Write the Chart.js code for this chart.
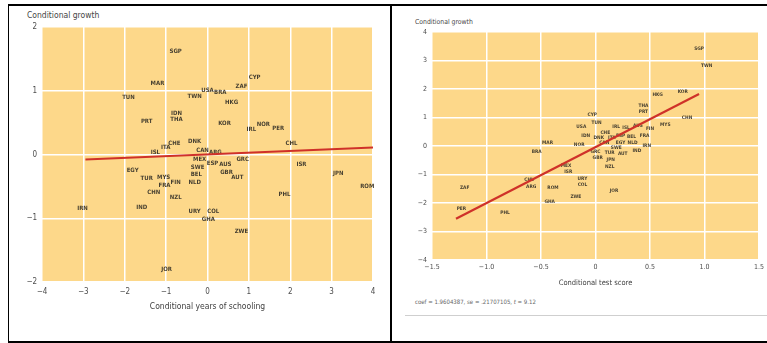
<!DOCTYPE html>
<html>
<head>
<meta charset="utf-8">
<script src="https://cdn.jsdelivr.net/npm/chart.js@4"></script>
<style>
  html, body { margin: 0; padding: 0; background: #fff; }
  body { width: 767px; height: 343px; position: relative; overflow: hidden;
         font-family: "Liberation Sans Narrow", "DejaVu Sans Condensed", "Arial Narrow", sans-serif; }
  .rule { position: absolute; background: #000; }
  canvas { position: absolute; top: 0; }
  .txt { position: absolute; white-space: nowrap; line-height: 1; color: #454545; }
</style>
</head>
<body>
<div class="rule" style="left:8px;top:4px;width:759px;height:2px"></div>
<div class="rule" style="left:8px;top:4px;width:1px;height:339px"></div>
<div class="rule" style="left:390px;top:4px;width:2px;height:339px"></div>
<div class="rule" style="left:8px;top:341px;width:759px;height:2px"></div>
<div style="position:absolute;left:405px;top:315px;width:362px;height:1px;background:#cfcfcf"></div>

<div class="txt" style="left:27px;top:11px;font-size:8.5px">Conditional growth</div>
<div class="txt" style="left:415px;top:19px;font-size:6.8px">Conditional growth</div>
<div class="txt" style="left:415px;top:299px;font-size:6px;color:#666">coef = 1.9604387, se = .21707105, <i>t</i> = 9.12</div>

<canvas id="schooling" width="390" height="343" style="left:0;width:390px;height:343px"></canvas>
<canvas id="testscore" width="377" height="343" style="left:390px;width:377px;height:343px"></canvas>

<script>
// Country codes, shared by both panels (same order in every array below)
const countries = ['SGP','MAR','TUN','TWN','USA','BRA','ZAF','CYP','HKG','IDN',
  'THA','PRT','KOR','IRL','NOR','PER','CHL','ISL','ITA','CHE',
  'DNK','CAN','ARG','MEX','ESP','AUS','GRC','SWE','GBR','BEL',
  'AUT','NLD','EGY','TUR','MYS','FRA','FIN','CHN','NZL','IND',
  'URY','COL','GHA','ISR','JPN','ROM','PHL','ZWE','IRN','JOR'];

// Left panel: conditional years of schooling vs conditional growth
const schoolYears = [-0.77,-1.21,-1.91,-0.31,0.00,0.31,0.82,1.14,0.58,-0.75,
  -0.75,-1.47,0.41,1.06,1.35,1.71,2.03,-1.26,-1.01,-0.80,
  -0.31,-0.12,0.19,-0.19,0.12,0.43,0.85,-0.24,0.46,-0.27,
  0.72,-0.31,-1.81,-1.47,-1.06,-1.04,-0.77,-1.30,-0.77,-1.59,
  -0.31,0.14,0.02,2.27,3.16,3.86,1.86,0.82,-3.02,-0.99];
const schoolGrowth = [1.61,1.12,0.90,0.91,1.01,0.98,1.07,1.21,0.82,0.65,
  0.55,0.52,0.49,0.39,0.47,0.41,0.17,0.03,0.11,0.17,
  0.20,0.06,0.03,-0.08,-0.14,-0.16,-0.08,-0.20,-0.28,-0.31,
  -0.36,-0.44,-0.25,-0.38,-0.36,-0.49,-0.44,-0.60,-0.68,-0.83,
  -0.90,-0.90,-1.02,-0.16,-0.30,-0.50,-0.62,-1.21,-0.85,-1.80];
const schoolFitX = [-2.95, 4.0];
const schoolFitY = [-0.08, 0.11];
const schoolXTicks = ['\u22124','\u22123','\u22122','\u22121','0','1','2','3','4'];
const schoolYTicks = ['\u22122','\u22121','0','1','2'];

// Right panel: conditional test score vs conditional growth
const testScore = [0.95,-0.44,0.01,1.02,-0.13,-0.54,-1.20,-0.03,0.57,-0.09,
  0.44,0.44,0.80,0.19,-0.15,-1.23,-0.61,0.28,0.15,0.09,
  0.03,0.08,-0.59,-0.27,0.23,0.39,0.00,0.19,0.02,0.33,
  0.25,0.34,0.23,0.13,0.64,0.45,0.50,0.84,0.13,0.38,
  -0.12,-0.12,-0.42,-0.25,0.14,-0.39,-0.83,-0.18,0.47,0.17];
const testGrowth = [3.40,0.11,0.81,2.81,0.67,-0.21,-1.47,1.09,1.79,0.35,
  1.40,1.19,1.89,0.67,0.04,-2.21,-1.19,0.63,0.28,0.46,
  0.28,0.11,-1.44,-0.70,0.35,0.70,-0.21,-0.07,-0.42,0.32,
  -0.28,0.11,0.11,-0.25,0.74,0.35,0.60,0.98,-0.74,-0.18,
  -1.16,-1.37,-1.96,-0.91,-0.49,-1.47,-2.35,-1.79,0.00,-1.58];
const testCoef = 1.9604387;
const testIntercept = -0.04;
const testFitX = [-1.28, 0.95];
const testXTicks = ['\u22121.5','\u22121.0','\u22120.5','0','0.5','1.0','1.5'];
const testYTicks = ['\u22124','\u22123','\u22122','\u22121','0','1','2','3','4'];

const FONT = '"Liberation Sans Narrow", "DejaVu Sans Condensed", "Arial Narrow", sans-serif';
const PLOT_BG = '#fdd88a';
const FIT_RED = '#cf3129';

// Fills the plotting area before the grid is drawn
const plotBackground = {
  id: 'plotBackground',
  beforeDraw(chart) {
    const a = chart.chartArea, ctx = chart.ctx;
    ctx.save();
    ctx.fillStyle = PLOT_BG;
    ctx.fillRect(a.left, a.top, a.right - a.left, a.bottom - a.top);
    ctx.restore();
  }
};

// Writes each country code at its point (under the fitted line)
const countryLabels = {
  id: 'countryLabels',
  beforeDatasetsDraw(chart, args, opts) {
    const meta = chart.getDatasetMeta(0);
    const ctx = chart.ctx;
    ctx.save();
    ctx.font = opts.font;
    ctx.fillStyle = opts.color;
    ctx.textAlign = 'center';
    ctx.textBaseline = 'middle';
    meta.data.forEach((pt, i) => ctx.fillText(opts.labels[i], pt.x, pt.y));
    ctx.restore();
  }
};

function buildPanel(canvasId, cfg) {
  const points = cfg.xs.map((x, i) => ({ x, y: cfg.ys[i] }));
  const fit = cfg.fitX.map((x, i) => ({ x, y: cfg.fitY[i] }));
  return new Chart(document.getElementById(canvasId), {
    type: 'scatter',
    data: {
      datasets: [
        { data: points, pointRadius: 0, pointHoverRadius: 0 },
        { data: fit, showLine: true, borderColor: FIT_RED, borderWidth: cfg.lineWidth,
          pointRadius: 0, pointHoverRadius: 0, fill: false }
      ]
    },
    options: {
      responsive: false,
      animation: false,
      events: [],
      layout: { padding: { left: 0, top: cfg.top, right: cfg.right, bottom: 0 } },
      plugins: {
        legend: { display: false },
        tooltip: { enabled: false },
        countryLabels: { labels: countries, font: 'bold ' + cfg.labelSize + 'px ' + FONT, color: '#463f30' }
      },
      scales: {
        x: {
          type: 'linear', min: cfg.xMin, max: cfg.xMax,
          afterFit: s => { s.height = cfg.xAxisHeight; },
          border: { display: false },
          grid: { color: '#ffffff', lineWidth: cfg.gridWidth, drawTicks: false },
          ticks: { stepSize: cfg.xStep, autoSkip: false, maxRotation: 0, padding: cfg.xTickPad,
                   color: '#4d4d4d', font: { family: FONT, size: cfg.tickSize },
                   callback: (v, i) => cfg.xTicks[i] },
          title: { display: true, text: cfg.xTitle, color: '#404040',
                   font: { family: FONT, size: cfg.titleSize },
                   padding: { top: 0, bottom: cfg.titlePad } }
        },
        y: {
          type: 'linear', min: cfg.yMin, max: cfg.yMax,
          afterFit: s => { s.width = cfg.yAxisWidth; },
          border: { display: false },
          grid: { color: '#ffffff', lineWidth: cfg.gridWidth, drawTicks: false },
          ticks: { stepSize: 1, autoSkip: false, padding: cfg.yTickPad,
                   color: '#4d4d4d', font: { family: FONT, size: cfg.tickSize },
                   callback: (v, i) => cfg.yTicks[i] }
        }
      }
    },
    plugins: [plotBackground, countryLabels]
  });
}

buildPanel('schooling', {
  xs: schoolYears, ys: schoolGrowth,
  fitX: schoolFitX, fitY: schoolFitY,
  xMin: -4, xMax: 4, xStep: 1, yMin: -2, yMax: 2,
  xTicks: schoolXTicks, yTicks: schoolYTicks,
  xTitle: 'Conditional years of schooling',
  top: 27, right: 17, xAxisHeight: 61, yAxisWidth: 42,
  xTickPad: 5, yTickPad: 5, titlePad: 31,
  tickSize: 8, titleSize: 8.5, labelSize: 6,
  gridWidth: 1.5, lineWidth: 2
});

buildPanel('testscore', {
  xs: testScore, ys: testGrowth,
  fitX: testFitX, fitY: testFitX.map(x => testIntercept + testCoef * x),
  xMin: -1.5, xMax: 1.5, xStep: 0.5, yMin: -4, yMax: 4,
  xTicks: testXTicks, yTicks: testYTicks,
  xTitle: 'Conditional test score',
  top: 32, right: 8, xAxisHeight: 83, yAxisWidth: 42,
  xTickPad: 3, yTickPad: 5, titlePad: 55,
  tickSize: 7, titleSize: 7.5, labelSize: 4.8,
  gridWidth: 1.5, lineWidth: 2.2
});
</script>
</body>
</html>
